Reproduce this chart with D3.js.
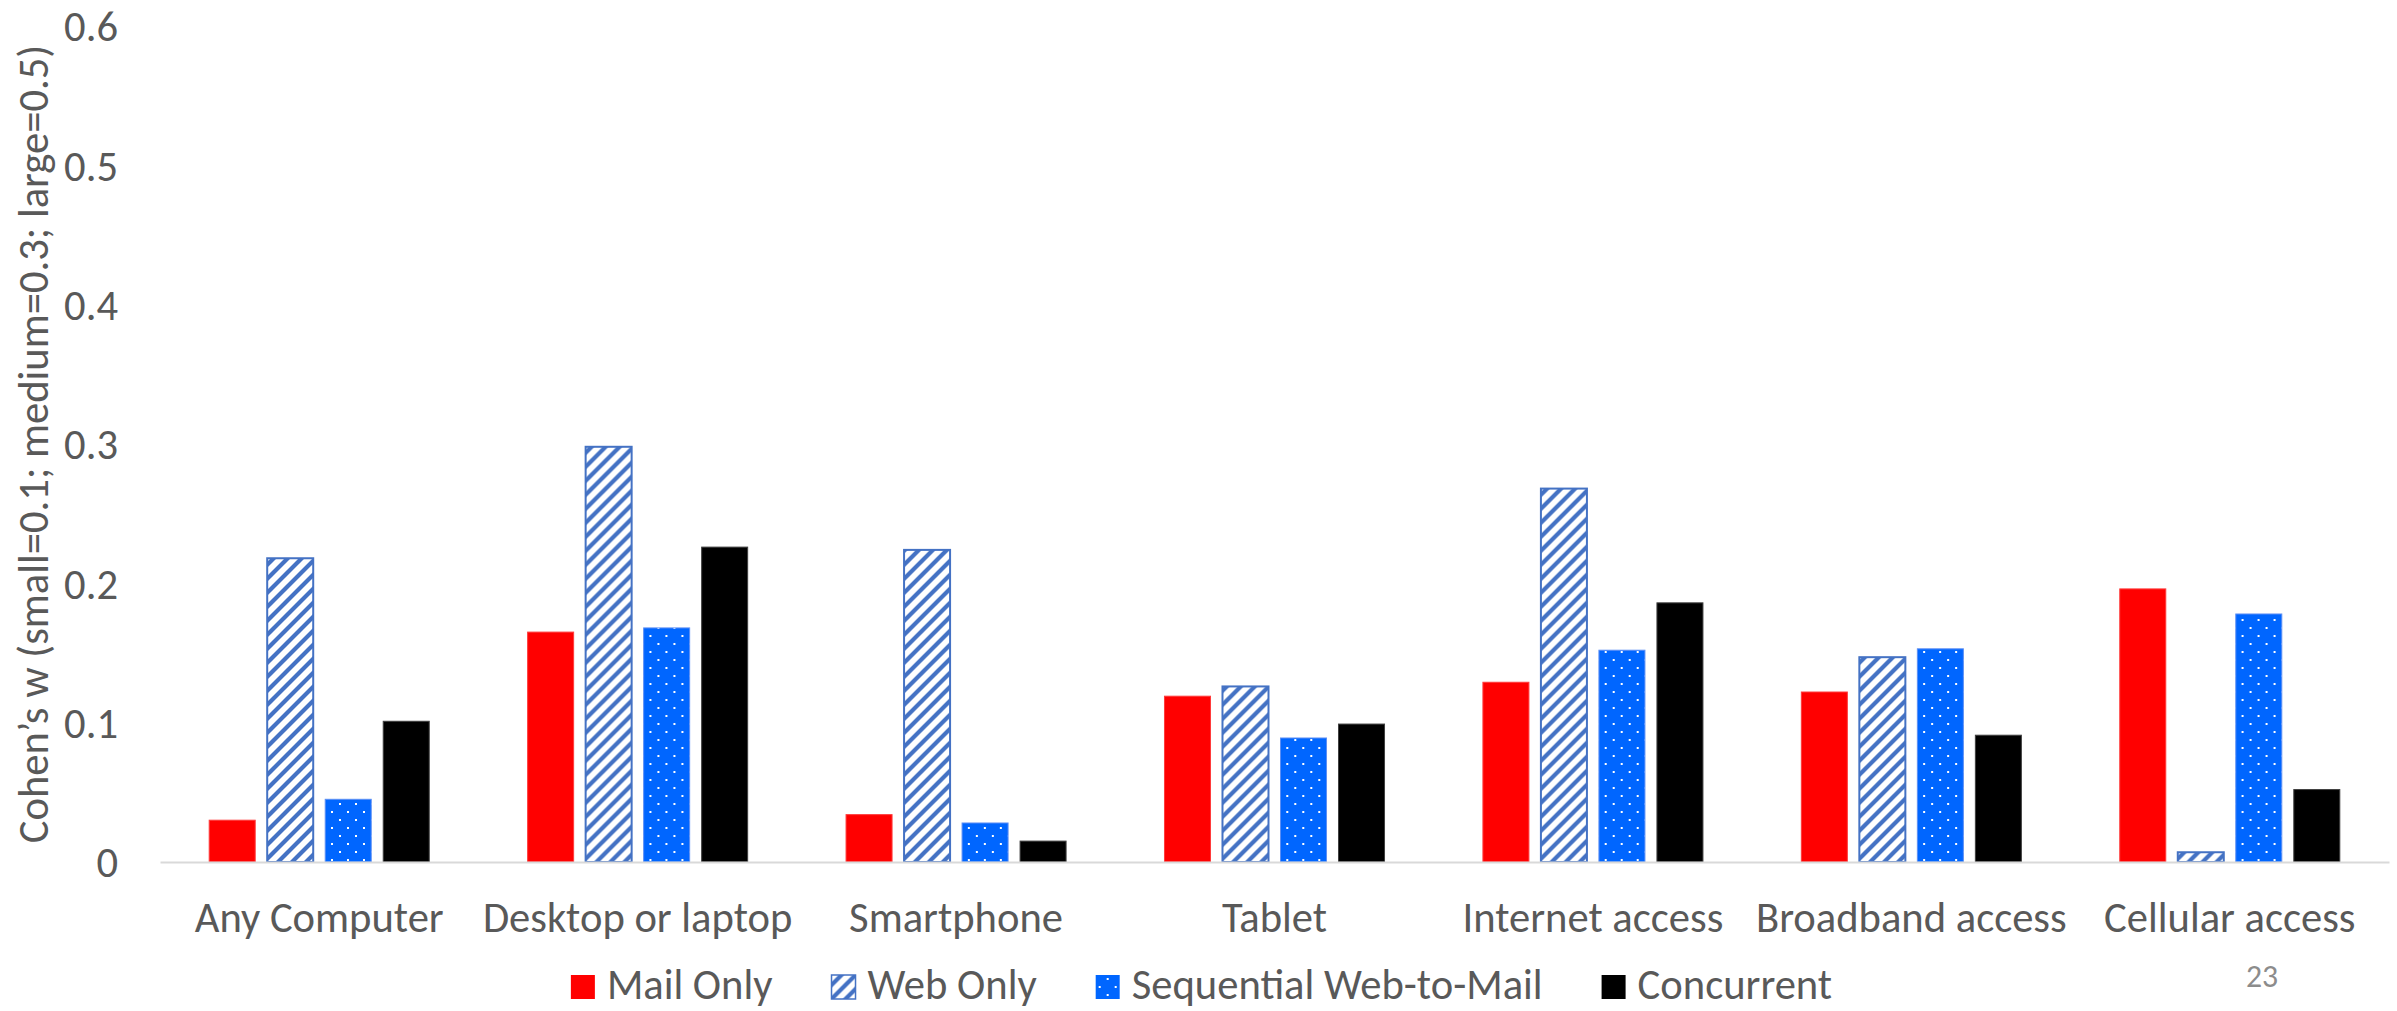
<!DOCTYPE html>
<html><head><meta charset="utf-8">
<script src="https://cdn.jsdelivr.net/npm/d3@7"></script>
<style>
html,body{margin:0;padding:0;background:#fff;overflow:hidden}
text{font-family:Carlito, Lato, sans-serif}
</style></head>
<body><svg id="chart" width="2397" height="1011"></svg>
<script>
const categories = ["Any Computer","Desktop or laptop","Smartphone","Tablet","Internet access","Broadband access","Cellular access"];
const seriesNames = ["Mail Only","Web Only","Sequential Web-to-Mail","Concurrent"];
const mailOnly   = [0.030, 0.165, 0.034, 0.119, 0.129, 0.122, 0.196];
const webOnly    = [0.218, 0.298, 0.224, 0.126, 0.268, 0.147, 0.007];
const sequential = [0.045, 0.168, 0.028, 0.089, 0.152, 0.153, 0.178];
const concurrent = [0.101, 0.226, 0.015, 0.099, 0.186, 0.091, 0.052];
const yTicks = [0, 0.1, 0.2, 0.3, 0.4, 0.5, 0.6];
const yTitle = "Cohen\u2019s w (small=0.1; medium=0.3; large=0.5)";
const pageNumber = "23";

const seriesValues = [mailOnly, webOnly, sequential, concurrent];
const svg = d3.select("#chart");
const W = 2397, H = 1011;
const plot = {left:160, right:2389, top:26, bottom:862};
const textColor = "#595959";

// calibrate font size so that widths match a Calibri 42.5px rendering
const probe = svg.append("text").attr("font-size", 100).text("Any Computer");
const probeW = probe.node().getComputedTextLength();
probe.remove();
const fs = 100 * 249 / probeW;

// patterns
const defs = svg.append("defs");
const pw = defs.append("pattern").attr("id","webPat").attr("patternUnits","userSpaceOnUse")
  .attr("width",14).attr("height",14);
pw.append("rect").attr("width",14).attr("height",14).attr("fill","#fff");
pw.append("path").attr("d","M-3.5,3.5 L3.5,-3.5 M0,14 L14,0 M10.5,17.5 L17.5,10.5")
  .attr("stroke","#4472C4").attr("stroke-width",4.2);
const ps = defs.append("pattern").attr("id","seqPat").attr("patternUnits","userSpaceOnUse")
  .attr("width",16).attr("height",16);
ps.append("rect").attr("width",16).attr("height",16).attr("fill","#0066FF");
ps.append("rect").attr("x",3).attr("y",3).attr("width",2).attr("height",2).attr("fill","#fff");
ps.append("rect").attr("x",11).attr("y",11).attr("width",2).attr("height",2).attr("fill","#fff");

const fills = ["#FF0000","url(#webPat)","url(#seqPat)","#000000"];
const strokes = ["#FF3B3B","#4472C4","#5B8EF5","#404040"];

const x0 = d3.scaleBand().domain(categories).range([plot.left, plot.right]).padding(0);
const groupW = x0.bandwidth() * 0.691;
const x1 = d3.scaleBand().domain(seriesNames)
  .range([(x0.bandwidth()-groupW)/2, (x0.bandwidth()+groupW)/2])
  .paddingInner(0.2069).paddingOuter(0);
const y = d3.scaleLinear().domain([0, 0.6]).range([plot.bottom, plot.top]);

// bars
const groups = svg.append("g").selectAll("g").data(categories).join("g")
  .attr("transform", d => `translate(${x0(d)},0)`);
groups.selectAll("rect")
  .data((c, ci) => seriesNames.map((s, si) => ({s, si, v: seriesValues[si][ci]})))
  .join("rect")
  .attr("x", d => x1(d.s)).attr("width", x1.bandwidth())
  .attr("y", d => y(d.v)).attr("height", d => y(0) - y(d.v))
  .attr("fill", d => fills[d.si])
  .attr("stroke", d => strokes[d.si])
  .attr("stroke-width", d => d.si === 1 ? 2 : 1);

// x axis line
const xAxis = d3.axisBottom(x0).tickSize(0).tickPadding(0);
const gx = svg.append("g").attr("transform", `translate(0,${plot.bottom})`).call(xAxis);
gx.select(".domain").attr("stroke","#D9D9D9").attr("stroke-width",2);
gx.selectAll(".tick text").attr("font-size", fs).attr("fill", textColor)
  .attr("dy", null).attr("y", 70).style("font-family","Carlito, Lato, sans-serif");

// y axis labels
const yAxis = d3.axisLeft(y).tickValues(yTicks).tickSize(0).tickPadding(0)
  .tickFormat(d => d === 0 ? "0" : d3.format(".1f")(d));
const gy = svg.append("g").attr("transform", `translate(118,0)`).call(yAxis);
gy.select(".domain").remove();
gy.selectAll(".tick text").attr("font-size", fs).attr("fill", textColor)
  .attr("x", 0).attr("dy","0.35em").style("font-family","Carlito, Lato, sans-serif");

// y title
svg.append("text").attr("transform", `translate(48,${(plot.top+plot.bottom)/2}) rotate(-90)`)
  .attr("text-anchor","middle").attr("font-size", fs).attr("fill", textColor).text(yTitle);

// legend
const swatch = 24, gapAfterSw = 12, entryGap = 59;
const legend = svg.append("g");
const items = legend.selectAll("g").data(seriesNames).join("g");
items.append("rect").attr("width", swatch).attr("height", swatch).attr("y", -swatch)
  .attr("fill", (d,i) => fills[i]).attr("stroke", (d,i) => i===1 ? "#4472C4" : "none").attr("stroke-width",1.5);
items.append("text").attr("x", swatch + gapAfterSw).attr("y", 0)
  .attr("font-size", fs).attr("fill", textColor).text(d => d);
let cx = 0;
items.each(function(){
  const g = d3.select(this);
  g.attr("transform", `translate(${cx},0)`);
  const tw = g.select("text").node().getComputedTextLength();
  cx += swatch + gapAfterSw + tw + entryGap;
});
const legW = cx - entryGap;
legend.attr("transform", `translate(${(W - legW)/2 + 3},999)`);

// page number
svg.append("text").attr("x", 2262).attr("y", 987).attr("text-anchor","middle")
  .attr("font-size", fs*0.745).attr("fill","#8C8C8C").text(pageNumber);
</script></body></html>
